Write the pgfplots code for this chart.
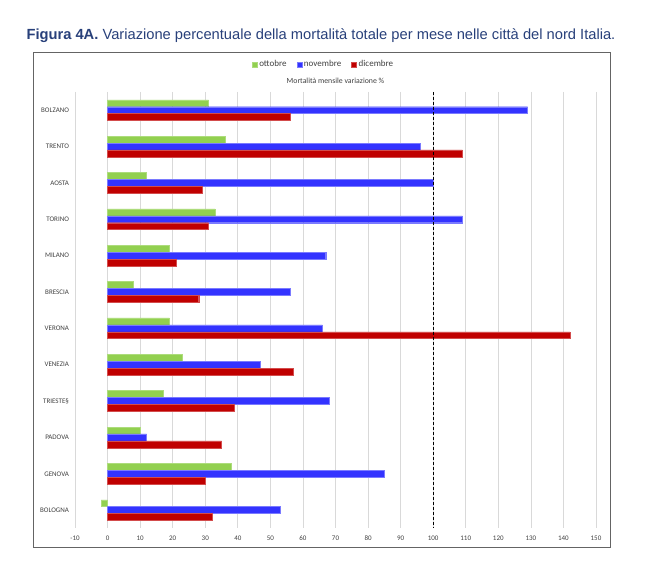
\documentclass[border=0pt]{standalone}
\usepackage{fontspec}
\setmainfont{Carlito}
\newfontfamily\titlefont{Liberation Sans}
\usepackage{pgfplots}
\pgfplotsset{compat=1.18}
\definecolor{okgreen}{RGB}{146,208,80}
\definecolor{nvblue}{RGB}{51,51,255}
\definecolor{dcred}{RGB}{192,0,0}
\definecolor{gridgray}{RGB}{217,217,217}
\definecolor{labgray}{RGB}{64,64,64}
\definecolor{titleblue}{RGB}{40,64,122}
\definecolor{framegray}{RGB}{100,100,100}
\begin{document}
\begin{tikzpicture}
\useasboundingbox (0pt,0pt) rectangle (650pt,575pt);
\node[font=\titlefont\fontsize{14.7}{17}\selectfont, text=titleblue] at (321pt,539.3pt)
  {\textbf{Figura 4A.} Variazione percentuale della mortalità totale per mese nelle città del nord Italia.};
\draw[framegray, line width=0.9pt] (33.5pt,28pt) rectangle (610pt,523pt);
\begin{axis}[
  at={(75pt,46.7pt)}, anchor=south west,
  width=521pt, height=436.3pt, scale only axis,
  xbar,
  bar width=0.19,
  xmin=-10, xmax=150,
  xtick={-10,0,10,20,30,40,50,60,70,80,90,100,110,120,130,140,150},
  ymin=-0.5, ymax=11.5, y dir=reverse,
  ytick={0,1,2,3,4,5,6,7,8,9,10,11},
  yticklabels={BOLZANO,TRENTO,AOSTA,TORINO,MILANO,BRESCIA,VERONA,VENEZIA,TRIESTE§,PADOVA,GENOVA,BOLOGNA},
  xmajorgrids,
  major grid style={draw=gridgray, line width=0.7pt},
  axis line style={draw=none},
  major tick length=0pt,
  /pgf/number format/assume math mode=true,
  tick label style={font=\fontsize{7}{8}\selectfont, text=labgray},
  xticklabel style={yshift=-4pt},
  yticklabel style={xshift=-2.5pt},
  title={Mortalità mensile variazione \%},
  title style={at={(0.5,1)}, anchor=center, yshift=5pt, font=\fontsize{7.8}{9}\selectfont, text=labgray},
  legend style={at={(0.477,1.0635)}, anchor=center, draw=none, fill=none,
    legend columns=3, font=\fontsize{9}{10}\selectfont, text=labgray,
    /tikz/every even column/.append style={column sep=8pt},
    inner sep=0pt},
  legend image code/.code={\fill[#1] (0pt,-2.5pt) rectangle (5pt,2.5pt);},
  legend cell align=left,
  clip=false,
]
\addplot[fill=okgreen, draw=okgreen!75!white, line width=0.4pt, bar shift=-0.19] coordinates {
 (31,0) (36,1) (12,2) (33,3) (19,4) (8,5) (19,6) (23,7) (17,8) (10,9) (38,10) (-2,11)};
\addplot[fill=nvblue, draw=nvblue!65!white, line width=0.4pt, bar shift=0] coordinates {
 (129,0) (96,1) (100,2) (109,3) (67,4) (56,5) (66,6) (47,7) (68,8) (12,9) (85,10) (53,11)};
\addplot[fill=dcred, draw=dcred!70!white, line width=0.4pt, bar shift=0.19] coordinates {
 (56,0) (109,1) (29,2) (31,3) (21,4) (28,5) (142,6) (57,7) (39,8) (35,9) (30,10) (32,11)};
\legend{ottobre,novembre,dicembre}
\addplot[black, dashed, line width=0.9pt, dash pattern=on 3pt off 2pt, forget plot, xbar=0pt, sharp plot] coordinates {(100,-0.5) (100,11.5)};
\end{axis}
\end{tikzpicture}
\end{document}
